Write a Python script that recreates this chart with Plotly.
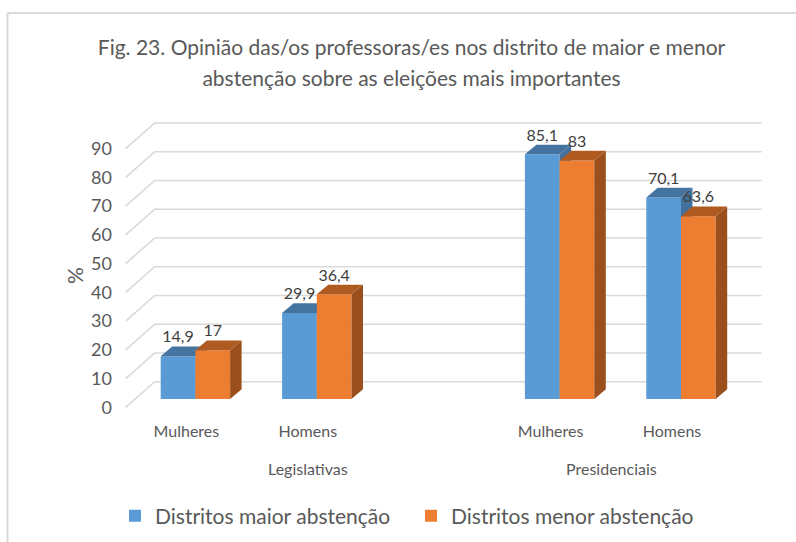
import plotly.graph_objects as go

# --- data ---
positions = [0, 1, 3, 4]
category_labels = ["Mulheres", "Homens", "Mulheres", "Homens"]
groups = ["Legislativas", "Presidenciais"]
group_positions = [1, 3.5]
maior = [14.9, 29.9, 85.1, 70.1]
menor = [17, 36.4, 83, 63.6]
y_ticks = [0, 10, 20, 30, 40, 50, 60, 70, 80, 90]
series_names = ["Distritos maior abstenção", "Distritos menor abstenção"]

FONT = "Lato"
TXT = "#595959"
W, H = 796, 542
PX_L, PX_R, PX_T, PX_B = 116, 780, 110, 420
X0_PX, Y0_PX = 186.4, 407.3      # front-plane origin
SLOT, UNIT = 121.4, 2.875        # px per category, px per %
lo_x, hi_x = (PX_L - X0_PX) / SLOT, (PX_R - X0_PX) / SLOT
lo_y, hi_y = (Y0_PX - PX_B) / UNIT, (Y0_PX - PX_T) / UNIT
# depth of the floor, of the bar plane within it, and of the bars
WALL_X, WALL_Y = 29 / SLOT, 25.6 / UNIT
SHIFT_X, SHIFT_Y = 9.0 / SLOT, 8.3 / UNIT
DX, DY = 11.5 / SLOT, 9.7 / UNIT
BW = 34.7 / SLOT

fig = go.Figure()

# floor / back-wall grid on the base axes
gx, gy = [], []
for t in y_ticks:
    gx += [lo_x + (125.7 - PX_L) / SLOT, lo_x + (125.7 - PX_L) / SLOT + WALL_X, 4.5 + WALL_X, None]
    gy += [t, t + WALL_Y, t + WALL_Y, None]
fig.add_trace(go.Scatter(x=gx, y=gy, mode="lines", line=dict(color="#D9D9D9", width=1.6),
                         hoverinfo="skip", showlegend=False, xaxis="x", yaxis="y"))


def faces(xs, values, left_off, side_col, top_col, ax, ay):
    for c, v in zip(xs, values):
        l, r = c + left_off, c + left_off + BW
        fig.add_trace(go.Scatter(x=[r, r + DX, r + DX, r, r], y=[0, DY, v + DY, v, 0], mode="lines",
                                 fill="toself", fillcolor=side_col, line=dict(width=0),
                                 hoverinfo="skip", showlegend=False, xaxis=ax, yaxis=ay))
        fig.add_trace(go.Scatter(x=[l, l + DX, r + DX, r, l], y=[v, v + DY, v + DY, v, v], mode="lines",
                                 fill="toself", fillcolor=top_col, line=dict(width=0),
                                 hoverinfo="skip", showlegend=False, xaxis=ax, yaxis=ay))


# blue series
fig.add_trace(go.Bar(x=positions, y=maior, width=BW, offset=-BW, name=series_names[0],
                     marker=dict(color="#5B9BD5", line=dict(width=0)), xaxis="x2", yaxis="y2"))
faces(positions, maior, -BW, "#41719C", "#44749F", "x2", "y2")

# orange series, on an axis pair stacked above the blue one
fig.add_trace(go.Bar(x=positions, y=menor, width=BW, offset=0, name=series_names[1],
                     marker=dict(color="#ED7D31", line=dict(width=0)), xaxis="x3", yaxis="y3"))
faces(positions, menor, 0, "#9A4F1C", "#AE5A21", "x3", "y3")


def fmt(v):
    return f"{v:g}".replace(".", ",")


for vals, off in ((maior, -BW / 2), (menor, BW / 2)):
    fig.add_trace(go.Scatter(x=[c + off for c in positions], y=[v + DY for v in vals], mode="text",
                             text=[fmt(v) for v in vals], textposition="top center",
                             textfont=dict(family=FONT, size=16, color="#404040"),
                             hoverinfo="skip", showlegend=False, xaxis="x3", yaxis="y3"))

dom_x = [PX_L / W, PX_R / W]
dom_y = [1 - PX_B / H, 1 - PX_T / H]
hidden = dict(visible=False, fixedrange=True)
small = '<span style="font-size:21px">%s</span>'
fig.update_layout(
    width=W, height=H, margin=dict(l=0, r=0, t=0, b=0), paper_bgcolor="white", plot_bgcolor="rgba(0,0,0,0)",
    font=dict(family=FONT, color=TXT),
    title=dict(text=small % "Fig. 23. Opinião das/os professoras/es nos distrito de maior e menor" + "<br>"
                    + small % "abstenção sobre as eleições mais importantes",
               x=411.5 / W, xanchor="center", y=1 - 55 / H, yanchor="middle",
               font=dict(family=FONT, size=24, color=TXT)),
    xaxis=dict(domain=dom_x, range=[lo_x, hi_x], tickmode="array", tickvals=positions, ticktext=category_labels,
               showgrid=False, zeroline=False, showline=False, ticks="", tickfont=dict(size=16, color=TXT)),
    yaxis=dict(domain=dom_y, range=[lo_y, hi_y], tickmode="array", tickvals=y_ticks, showgrid=False,
               zeroline=False, showline=False, ticks="", ticklabelstandoff=3, tickfont=dict(size=18, color=TXT)),
    xaxis2=dict(hidden, domain=dom_x, range=[lo_x - SHIFT_X, hi_x - SHIFT_X], overlaying="x", anchor="y2"),
    yaxis2=dict(hidden, domain=dom_y, range=[lo_y - SHIFT_Y, hi_y - SHIFT_Y], overlaying="y", anchor="x2"),
    xaxis3=dict(hidden, domain=dom_x, range=[lo_x - SHIFT_X, hi_x - SHIFT_X], overlaying="x", anchor="y3"),
    yaxis3=dict(hidden, domain=dom_y, range=[lo_y - SHIFT_Y, hi_y - SHIFT_Y], overlaying="y", anchor="x3"),
    legend=dict(orientation="h", x=115 / W, xanchor="left", y=1 - 516 / H, yanchor="middle",
                entrywidth=251, entrywidthmode="pixels",
                font=dict(family=FONT, size=21, color=TXT), itemclick=False, bgcolor="rgba(0,0,0,0)"),
    shapes=[
        dict(type="line", xref="paper", yref="paper", x0=7.5 / W, x1=7.5 / W, y0=0, y1=1 - 13 / H,
             line=dict(color="#D9D9D9", width=2)),
        dict(type="line", xref="paper", yref="paper", x0=7.5 / W, x1=1, y0=1 - 13 / H, y1=1 - 13 / H,
             line=dict(color="#D9D9D9", width=2)),
    ],
    annotations=[
        dict(text="%", xref="paper", yref="paper", x=74 / W, y=1 - 276 / H, textangle=-90, showarrow=False,
             font=dict(family=FONT, size=21, color=TXT), xanchor="center", yanchor="middle"),
    ] + [
        dict(text=g, xref="x", yref="paper", x=p, y=1 - 468 / H, showarrow=False,
             font=dict(family=FONT, size=16, color=TXT), xanchor="center", yanchor="middle")
        for g, p in zip(groups, group_positions)
    ],
)

fig.write_html("out.html", config=dict(displayModeBar=False), post_script="document.body.style.margin='0';")
